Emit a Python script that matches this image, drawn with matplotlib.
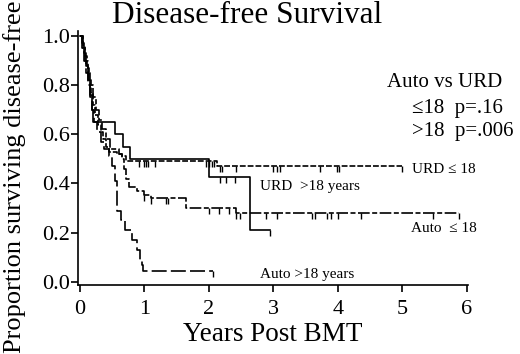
import matplotlib
matplotlib.use("Agg")
import matplotlib.pyplot as plt

plt.rcParams['font.family'] = ['Liberation Serif', 'DejaVu Serif']

# Kaplan-Meier steps: (times, survival), censor times
urd_le18_t = [0, 0.04, 0.08, 0.11, 0.14, 0.17, 0.20, 0.24, 0.28, 0.32, 0.36, 0.40, 0.45, 0.58, 0.66, 0.72, 2.12, 5.0]
urd_le18_s = [1.0, 0.96, 0.92, 0.87, 0.82, 0.77, 0.72, 0.68, 0.64, 0.61, 0.58, 0.55, 0.53, 0.52, 0.51, 0.49, 0.47, 0.47]
urd_le18_cens = [0.91, 1.0, 1.03, 1.05, 1.16, 1.96, 2.0, 2.05, 2.08, 2.17, 2.21, 2.42,
                 3.0, 3.05, 3.1, 3.73, 3.99, 4.02, 5.0]

urd_gt18_t = [0, 0.03, 0.06, 0.09, 0.12, 0.15, 0.18, 0.21, 0.54, 0.67, 0.77, 2.0, 2.64, 2.95]
urd_gt18_s = [1.0, 0.97, 0.93, 0.88, 0.82, 0.76, 0.70, 0.65, 0.60, 0.55, 0.50, 0.425, 0.21, 0.21]
urd_gt18_cens = [2.17, 2.27, 2.40, 2.95]

auto_le18_t = [0, 0.04, 0.08, 0.12, 0.16, 0.20, 0.25, 0.30, 0.35, 0.40, 0.46, 0.60, 0.65, 0.68,
               0.72, 0.76, 0.88, 1.0, 1.1, 1.65, 2.42, 5.88]
auto_le18_s = [1.0, 0.95, 0.90, 0.85, 0.80, 0.75, 0.70, 0.66, 0.62, 0.58, 0.54, 0.52, 0.50, 0.46,
               0.42, 0.385, 0.37, 0.355, 0.34, 0.30, 0.278, 0.278]
auto_le18_cens = [1.0, 1.11, 1.34, 1.37, 2.0, 2.16, 2.31, 2.42, 2.49, 2.88, 3.06,
                  3.6, 3.65, 3.83, 3.9, 4.0, 4.36, 5.47, 5.88]

auto_gt18_t = [0, 0.03, 0.06, 0.09, 0.12, 0.15, 0.18, 0.22, 0.27, 0.32, 0.38, 0.45, 0.50, 0.55,
               0.58, 0.63, 0.70, 0.80, 0.89, 0.93, 0.96, 0.98, 2.07]
auto_gt18_s = [1.0, 0.95, 0.90, 0.85, 0.80, 0.75, 0.70, 0.65, 0.61, 0.57, 0.54, 0.51, 0.47, 0.41,
               0.29, 0.25, 0.21, 0.17, 0.13, 0.09, 0.07, 0.045, 0.045]
auto_gt18_cens = [2.07]

curves = [
    (urd_le18_t, urd_le18_s, urd_le18_cens, (0, (3.5, 1.2))),
    (urd_gt18_t, urd_gt18_s, urd_gt18_cens, '-'),
    (auto_le18_t, auto_le18_s, auto_le18_cens, (0, (7, 1.5, 3, 1.5))),
    (auto_gt18_t, auto_gt18_s, auto_gt18_cens, (0, (9, 2.5))),
]

fig = plt.figure(figsize=(5.2, 3.54), dpi=100)
ax = fig.add_axes([0.15, 0.195, 0.75, 0.717])

tick_marker = [(0, 0), (0, -1)]
for t, s, cens, ls in curves:
    ax.step(t, s, where='post', color='black', lw=1.2, linestyle=ls)
    # censor marks hang below the curve
    cy = []
    for c in cens:
        idx = max(i for i in range(len(t)) if t[i] <= c)
        cy.append(s[idx])
    ax.plot(cens, cy, linestyle='none', marker=tick_marker, markersize=8,
            markeredgewidth=1.0, color='black')

ax.set_xlim(-0.03, 6.02)
ax.set_ylim(-0.013, 1.02)
ax.set_xticks(range(7))
ax.set_yticks([0.0, 0.2, 0.4, 0.6, 0.8, 1.0])
ax.set_yticklabels(['0.0', '0.2', '0.4', '0.6', '0.8', '1.0'])
ax.tick_params(labelsize=16, width=1.2, length=5, color='black')
ax.tick_params(axis='y', pad=1)
ax.tick_params(axis='x', pad=6)
for side in ('top', 'right'):
    ax.spines[side].set_visible(False)
for side in ('left', 'bottom'):
    ax.spines[side].set_linewidth(1.2)

ax.set_xlabel('Years Post BMT', fontsize=19.5, labelpad=2)
fig.text(0.027, 0.5, 'Proportion surviving disease-free', fontsize=19,
         rotation=90, ha='center', va='center')
fig.text(0.475, 0.955, 'Disease-free Survival', fontsize=22.5, ha='center', va='center')

ax.text(4.77, 0.81, 'Auto vs URD', fontsize=15, va='center')
ax.text(5.15, 0.707, '≤18  p=.16', fontsize=15, va='center')
ax.text(5.15, 0.61, '>18  p=.006', fontsize=15, va='center')

ax.text(5.15, 0.455, 'URD ≤ 18', fontsize=11, va='center')
ax.text(2.8, 0.386, 'URD  >18 years', fontsize=11, va='center')
ax.text(5.14, 0.215, 'Auto  ≤ 18', fontsize=11, va='center')
ax.text(2.8, 0.028, 'Auto >18 years', fontsize=11, va='center')

fig.savefig('out.png', dpi=100)
